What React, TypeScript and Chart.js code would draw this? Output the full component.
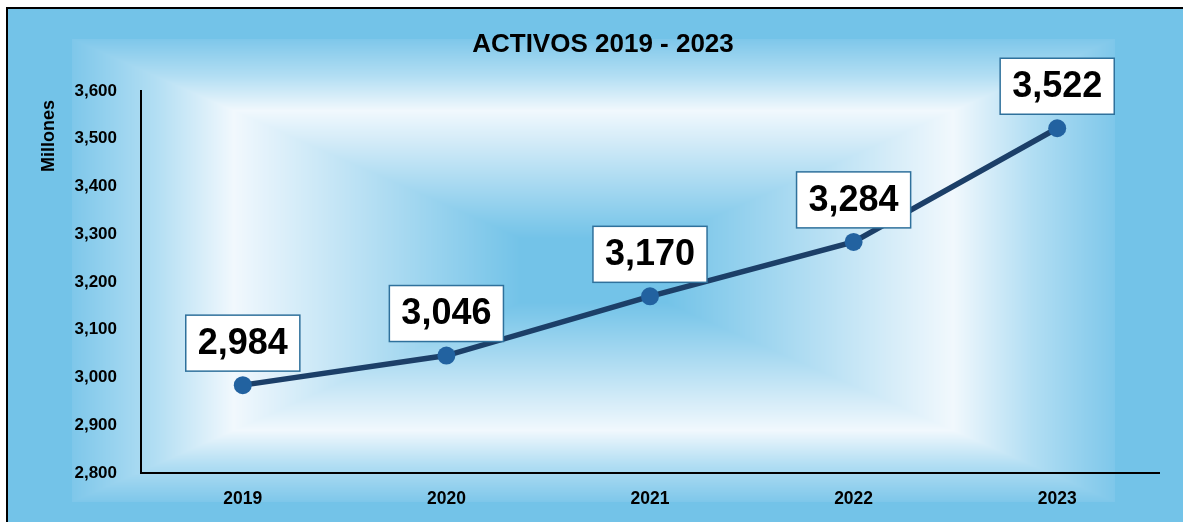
import React, { useEffect, useRef } from 'react';
import { Chart, registerables } from 'chart.js';

Chart.register(...registerables);

// ---- data ----
const categories: string[] = ['2019', '2020', '2021', '2022', '2023'];
const activos: number[] = [2984, 3046, 3170, 3284, 3522];
const yMin = 2800;
const yMax = 3600;
const yStep = 100;
const chartTitle = 'ACTIVOS 2019 - 2023';
const yAxisTitle = 'Millones';

const FONT = "'Liberation Sans', Arial, Helvetica, sans-serif";
const fmt = (v: number) => v.toLocaleString('en-US');

type RGB = [number, number, number];
const gradStops: [number, RGB][] = [
  [0, [115, 195, 232]],
  [0.14, [115, 195, 232]],
  [0.69, [241, 248, 253]],
  [0.84, [178, 222, 243]],
  [1, [126, 199, 234]],
];

function colorAt(d: number): RGB {
  if (d <= gradStops[0][0]) return gradStops[0][1];
  for (let i = 1; i < gradStops.length; i++) {
    const [p1, c1] = gradStops[i];
    const [p0, c0] = gradStops[i - 1];
    if (d <= p1) {
      const t = (d - p0) / (p1 - p0);
      return [c0[0] + (c1[0] - c0[0]) * t, c0[1] + (c1[1] - c0[1]) * t, c0[2] + (c1[2] - c0[2]) * t];
    }
  }
  return gradStops[gradStops.length - 1][1];
}

const bgPlugin = {
  id: 'bgPlugin',
  beforeDraw(chart: any) {
    const ctx: CanvasRenderingContext2D = chart.ctx;
    const W = chart.width;
    const H = chart.height;
    ctx.save();
    ctx.fillStyle = '#ffffff';
    ctx.fillRect(0, 0, W, H);
    ctx.fillStyle = '#73C3E8';
    ctx.fillRect(7, 8, W - 7, H - 8);
    const x0 = 72, x1 = 1115, y0 = 39, y1 = 502;
    const cx = (x0 + x1) / 2, cy = (y0 + y1) / 2;
    const hw = (x1 - x0) / 2, hh = (y1 - y0) / 2;
    const w = x1 - x0, h = y1 - y0;
    const img = ctx.createImageData(w, h);
    const data = img.data;
    for (let j = 0; j < h; j++) {
      const dy = Math.abs(y0 + j + 0.5 - cy) / hh;
      for (let i = 0; i < w; i++) {
        const dx = Math.abs(x0 + i + 0.5 - cx) / hw;
        const c = colorAt(Math.max(dx, dy));
        const k = (j * w + i) * 4;
        data[k] = c[0];
        data[k + 1] = c[1];
        data[k + 2] = c[2];
        data[k + 3] = 255;
      }
    }
    ctx.putImageData(img, x0, y0);
    ctx.fillStyle = '#000000';
    ctx.fillRect(6, 7, W - 6, 2);
    ctx.fillRect(6, 7, 2, H - 7);
    ctx.restore();
  },
};

const textPlugin = {
  id: 'textPlugin',
  afterDraw(chart: any) {
    const ctx: CanvasRenderingContext2D = chart.ctx;
    ctx.save();
    ctx.fillStyle = '#000000';
    ctx.textAlign = 'center';
    ctx.textBaseline = 'middle';
    ctx.font = `bold 26px ${FONT}`;
    ctx.fillText(chartTitle, 603, 45);
    ctx.translate(49, 136);
    ctx.rotate(-Math.PI / 2);
    ctx.font = `bold 18px ${FONT}`;
    ctx.fillText(yAxisTitle, 0, 0);
    ctx.restore();
  },
};

const labelPlugin = {
  id: 'labelPlugin',
  afterDatasetsDraw(chart: any) {
    const ctx: CanvasRenderingContext2D = chart.ctx;
    const meta = chart.getDatasetMeta(0);
    const values = chart.data.datasets[0].data as number[];
    ctx.save();
    ctx.font = `bold 36px ${FONT}`;
    ctx.textAlign = 'center';
    ctx.textBaseline = 'middle';
    meta.data.forEach((pt: any, i: number) => {
      const text = fmt(values[i]);
      const tw = ctx.measureText(text).width;
      const bw = tw + 24;
      const bh = 56;
      const bx = pt.x - bw / 2;
      const by = pt.y - 14 - bh;
      ctx.fillStyle = '#ffffff';
      ctx.fillRect(bx, by, bw, bh);
      ctx.strokeStyle = '#2F719C';
      ctx.lineWidth = 1.5;
      ctx.strokeRect(bx, by, bw, bh);
      ctx.fillStyle = '#000000';
      ctx.fillText(text, pt.x, by + bh / 2 + 1);
    });
    ctx.restore();
  },
};

export default function App() {
  const canvasRef = useRef<HTMLCanvasElement | null>(null);

  useEffect(() => {
    if (!canvasRef.current) return;
    const chart = new Chart(canvasRef.current, {
      type: 'line',
      data: {
        labels: categories,
        datasets: [
          {
            label: 'Activos',
            data: activos,
            borderColor: '#1C3F68',
            borderWidth: 5.5,
            pointRadius: 9,
            pointHoverRadius: 9,
            pointBackgroundColor: '#2262A0',
            pointBorderColor: '#2262A0',
            pointBorderWidth: 0,
            tension: 0,
          },
        ],
      },
      options: {
        animation: false,
        responsive: true,
        maintainAspectRatio: false,
        events: [],
        layout: { padding: { top: 91, right: 24, bottom: 0, left: 0 } },
        plugins: {
          legend: { display: false },
          title: { display: false },
          tooltip: { enabled: false },
        },
        scales: {
          x: {
            offset: true,
            grid: { display: false, drawTicks: false },
            border: { display: true, color: '#000000', width: 2 },
            ticks: {
              color: '#000000',
              padding: 16,
              font: { family: FONT, size: 17.5, weight: 'bold' },
            },
            afterFit(scale: any) {
              scale.height = 49;
            },
          },
          y: {
            min: yMin,
            max: yMax,
            grid: { display: false, drawTicks: false },
            border: { display: true, color: '#000000', width: 2 },
            ticks: {
              stepSize: yStep,
              color: '#000000',
              padding: 24,
              font: { family: FONT, size: 17, weight: 'bold' },
              callback: (v: any) => fmt(Number(v)),
            },
            afterFit(scale: any) {
              scale.width = 141;
            },
          },
        },
      },
      plugins: [bgPlugin, labelPlugin, textPlugin],
    });
    return () => chart.destroy();
  }, []);

  return (
    <div style={{ position: 'fixed', left: 0, top: 0, width: 1183, height: 522, background: '#fff' }}>
      <canvas ref={canvasRef} />
    </div>
  );
}
